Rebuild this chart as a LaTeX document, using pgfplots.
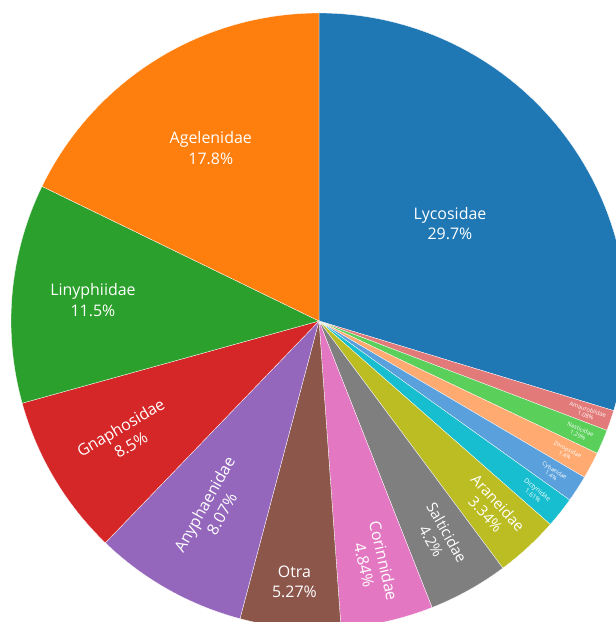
\documentclass[border=0pt]{standalone}
\usepackage{pgfplots}
\pgfplotsset{compat=1.18}
\usepackage{pgfplotstable}
\usepackage{fontspec}
\setmainfont{Open Sans}

\definecolor{cA}{HTML}{1F77B4}
\definecolor{cB}{HTML}{FF7F0E}
\definecolor{cC}{HTML}{2CA02C}
\definecolor{cD}{HTML}{D62728}
\definecolor{cE}{HTML}{9467BD}
\definecolor{cF}{HTML}{8C564B}
\definecolor{cG}{HTML}{E377C2}
\definecolor{cH}{HTML}{7F7F7F}
\definecolor{cI}{HTML}{BCBD22}
\definecolor{cJ}{HTML}{17BECF}
\definecolor{cS}{HTML}{5AA0DC}
\definecolor{cR}{HTML}{FFAA70}
\definecolor{cQ}{HTML}{5ACF5A}
\definecolor{cP}{HTML}{E27A7A}

% name value colour label-radius mode(0 horizontal,1 radial) fontsize lineheight
\pgfplotstableread{
name value col r mode fs lh
Lycosidae 29.7 cA 163 0 16 20
Amaurobiidae 1.08 cP 283 1 5.8 6.4
Nesticidae 1.29 cQ 283 1 5.8 6.4
Zoropsidae 1.4 cR 280 1 5.8 6.4
Cybaeidae 1.4 cS 279 1 5.8 6.4
Dictynidae 1.61 cJ 276 1 6.5 7.4
Araneidae 3.34 cI 255 1 15 17
Salticidae 4.2 cH 247 1 15 18
Corinnidae 4.84 cG 248 1 16 20
Otra 5.27 cF 262 0 16 21
Anyphaenidae 8.07 cE 216 1 16 20
Gnaphosidae 8.5 cD 225 1 16 20
Linyphiidae 11.5 cC 227 0 16 21
Agelenidae 17.8 cB 204 0 16 21
}\slices

\begin{document}
\begin{tikzpicture}
\begin{axis}[
  scale only axis, width=616bp, height=622bp,
  xmin=0, xmax=616, ymin=0, ymax=622,
  hide axis, clip=true,
]
\clip (axis cs:0,0) rectangle (axis cs:616,622);
\pgfplotstablegetrowsof{\slices}
\pgfmathtruncatemacro{\N}{\pgfplotsretval-1}
\gdef\startang{90}
\pgfplotsforeachungrouped \i in {0,...,\N}{%
  \pgfplotstablegetelem{\i}{value}\of\slices \let\vv\pgfplotsretval
  \pgfplotstablegetelem{\i}{name}\of\slices \let\nn\pgfplotsretval
  \pgfplotstablegetelem{\i}{col}\of\slices \let\cc\pgfplotsretval
  \pgfplotstablegetelem{\i}{r}\of\slices \let\rr\pgfplotsretval
  \pgfplotstablegetelem{\i}{mode}\of\slices \let\mm\pgfplotsretval
  \pgfplotstablegetelem{\i}{fs}\of\slices \let\ff\pgfplotsretval
  \pgfplotstablegetelem{\i}{lh}\of\slices \let\ll\pgfplotsretval
  \pgfmathsetmacro{\endang}{\startang-3.6*\vv}
  \pgfmathsetmacro{\midang}{(\startang+\endang)/2}
  \pgfmathsetmacro{\sx}{319+308*cos(\startang)}
  \pgfmathsetmacro{\sy}{301+308*sin(\startang)}
  \pgfmathsetmacro{\lx}{319+\rr*cos(\midang)}
  \pgfmathsetmacro{\ly}{301+\rr*sin(\midang)}
  \ifnum\mm=0 \def\rot{0}\else
    \pgfmathsetmacro{\rot}{\midang < -90 ? \midang+180 : \midang}\fi
  \edef\temp{%
    \noexpand\fill[\cc, draw=white, line width=0.3bp] (axis cs:319,301) -- (axis cs:\sx,\sy) arc[start angle=\startang, end angle=\endang, radius=308bp] -- cycle;
    \noexpand\node[text=white, align=center, inner sep=0pt, rotate=\rot, font=\noexpand\fontsize{\ff}{\ll}\noexpand\selectfont] at (axis cs:\lx,\ly) {\nn\noexpand\\\vv\noexpand\%};%
  }%
  \temp
  \global\let\startang\endang
}
\end{axis}
\end{tikzpicture}
\end{document}
